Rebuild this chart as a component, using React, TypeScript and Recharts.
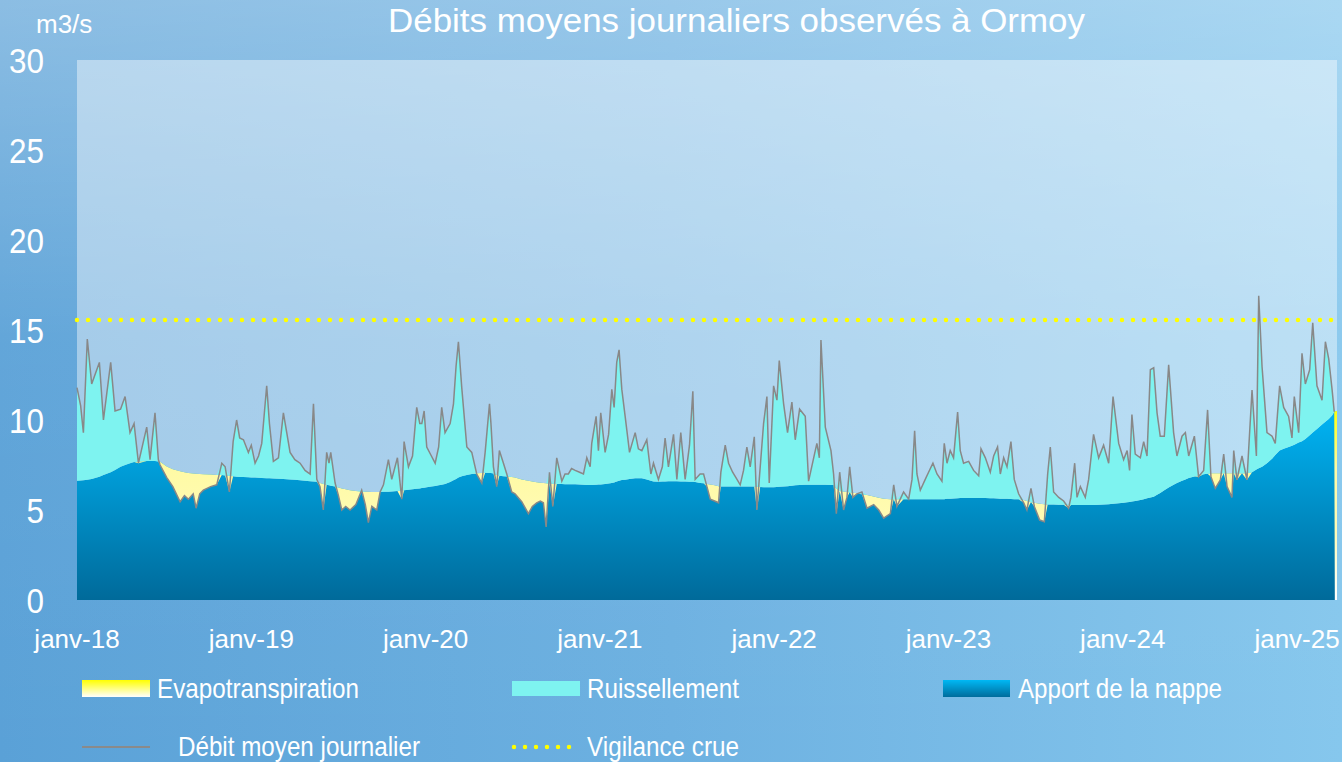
import React from "react";
import {
  ComposedChart,
  Area,
  Line,
  XAxis,
  YAxis,
  CartesianGrid,
  ReferenceLine,
} from "recharts";

// Month index since janv-2018 (0 = 1 Jan 2018)
const MONTHS: number[] = [
  0.0, 0.25, 0.44, 0.71, 1.01, 1.54, 1.82, 2.32, 2.62, 3.0, 3.31, 3.65, 3.93, 4.23, 4.8, 5.03, 5.37, 5.6, 5.72, 6.18,
  6.6, 7.1, 7.4, 7.67, 8.0, 8.2, 8.45, 8.7, 9.2, 9.62, 9.97, 10.2, 10.49, 10.75, 10.99, 11.2, 11.46, 11.8, 12.0, 12.26,
  12.5, 12.72, 13.06, 13.25, 13.52, 13.87, 14.21, 14.44, 14.67, 15.0, 15.36, 15.7, 16.05, 16.28, 16.51, 16.73, 16.96, 17.19, 17.35, 17.47,
  17.77, 18.0, 18.23, 18.5, 18.8, 19.2, 19.6, 19.85, 20.06, 20.3, 20.64, 20.87, 21.1, 21.44, 21.67, 22.06, 22.36, 22.52, 22.82, 23.1,
  23.39, 23.6, 23.74, 23.9, 24.08, 24.4, 24.66, 24.9, 25.11, 25.34, 25.69, 25.92, 26.1, 26.26, 26.49, 26.84, 27.18, 27.52, 27.87, 28.1,
  28.4, 28.5, 28.67, 28.9, 29.08, 29.36, 29.59, 29.93, 30.16, 30.62, 31.08, 31.35, 31.65, 31.9, 32.11, 32.3, 32.53, 32.76, 33.03, 33.38,
  33.6, 33.83, 34.05, 34.3, 34.6, 34.87, 35.1, 35.33, 35.44, 35.74, 35.9, 36.06, 36.36, 36.6, 36.82, 36.98, 37.16, 37.32, 37.51, 37.74,
  38.04, 38.43, 38.65, 38.89, 39.23, 39.51, 39.69, 40.03, 40.3, 40.49, 40.72, 41.07, 41.3, 41.57, 41.87, 42.17, 42.4, 42.56, 42.9, 43.14,
  43.37, 43.6, 43.9, 44.17, 44.33, 44.63, 44.86, 45.14, 45.44, 45.66, 45.89, 46.12, 46.35, 46.63, 46.81, 47.04, 47.27, 47.5, 47.66, 47.96,
  48.19, 48.35, 48.65, 48.92, 49.22, 49.45, 49.75, 50.14, 50.37, 50.72, 50.94, 51.11, 51.22, 51.52, 51.91, 52.09, 52.28, 52.51, 52.78, 53.01,
  53.2, 53.42, 53.7, 54.04, 54.39, 54.85, 55.2, 55.54, 56.0, 56.23, 56.45, 56.91, 57.26, 57.49, 57.67, 57.83, 58.06, 58.4, 58.63, 58.93,
  59.21, 59.55, 59.71, 59.9, 60.12, 60.35, 60.63, 60.81, 61.04, 61.39, 61.73, 62.08, 62.24, 62.54, 62.88, 63.11, 63.38, 63.57, 63.8, 64.03,
  64.3, 64.53, 64.83, 65.18, 65.4, 65.68, 65.91, 66.28, 66.6, 66.83, 67.01, 67.24, 67.59, 67.93, 68.27, 68.43, 68.69, 68.85, 69.08, 69.42,
  69.65, 69.99, 70.34, 70.68, 71.03, 71.33, 71.72, 72.06, 72.3, 72.47, 72.63, 72.86, 73.21, 73.44, 73.67, 73.9, 74.13, 74.36, 74.58, 74.86,
  75.16, 75.5, 75.73, 76.08, 76.31, 76.54, 76.93, 77.22, 77.57, 77.84, 78.07, 78.37, 78.72, 78.95, 79.18, 79.52, 79.64, 79.86, 80.21, 80.55,
  80.9, 81.2, 81.36, 81.59, 81.93, 82.28, 82.5, 82.8, 83.08, 83.42, 83.65, 83.81, 84.11, 84.34, 84.57, 84.87, 85.08, 85.37, 85.72, 85.95,
  86.18, 86.41, 86.56, 86.6, 86.75,
];

// Débit moyen journalier (m3/s)
const DEBIT: (number | null)[] = [
  11.8, 10.8, 9.3, 14.5, 12.0, 13.2, 10.0, 13.2, 10.5, 10.6, 11.3, 9.3, 9.8, 7.6, 9.6, 7.8, 10.4, 7.8, 7.5, 6.8,
  6.3, 5.46, 5.8, 5.6, 5.9, 5.1, 5.9, 6.1, 6.3, 6.4, 7.6, 7.4, 6.0, 8.8, 10.0, 9.0, 8.9, 8.2, 8.6, 7.6,
  8.0, 8.7, 11.9, 9.8, 7.7, 7.9, 10.4, 9.3, 8.2, 7.8, 7.6, 7.2, 7.0, 10.9, 6.7, 6.3, 5.0, 8.2, 7.6, 8.2,
  6.5, 5.8, 5.0, 5.2, 5.0, 5.3, 6.1, 5.3, 4.3, 5.2, 5.0, 6.0, 6.4, 7.8, 6.7, 7.9, 5.6, 8.8, 7.4, 8.0,
  10.7, 9.8, 9.8, 10.5, 8.5, 8.0, 7.6, 8.5, 10.7, 9.3, 9.8, 10.9, 13.0, 14.35, 11.8, 8.5, 8.2, 7.0, 6.5, 8.2,
  10.9, 9.8, 7.4, 6.3, 8.3, 7.6, 7.0, 6.0, 5.9, 5.46, 4.8, 5.2, 5.4, 5.5, 5.4, 4.06, 7.1, 5.2, 7.9, 6.6,
  7.0, 7.0, 7.3, 7.2, 7.1, 7.0, 7.9, 7.4, 8.7, 10.2, 8.3, 10.4, 8.2, 9.2, 11.7, 10.7, 13.2, 13.9, 11.7, 10.2,
  8.2, 9.3, 8.4, 8.3, 8.9, 7.0, 7.6, 6.7, 7.4, 9.0, 7.4, 9.2, 6.7, 9.3, 6.7, 8.6, 11.6, 6.7, 7.0, 7.0,
  6.3, 5.6, 5.5, 5.4, 7.1, 8.6, 7.6, 7.1, 6.7, 6.4, 7.2, 8.5, 7.4, 9.07, 5.0, 7.4, 9.8, 11.3, 6.5, 11.9,
  11.1, 13.3, 10.9, 9.3, 11.0, 8.9, 10.6, 10.2, 6.6, 7.9, 8.7, 7.9, 14.44, 9.6, 8.3, 7.0, 4.8, 7.1, 5.0, 5.7,
  7.4, 5.7, 5.9, 6.0, 5.1, 5.3, 5.0, 4.55, 4.8, 6.4, 5.2, 6.0, 5.6, 6.7, 9.4, 7.0, 6.1, 6.7, 7.1, 7.6,
  7.0, 6.6, 8.7, 7.6, 8.3, 7.9, 10.44, 8.3, 7.6, 7.7, 7.2, 6.9, 8.4, 7.9, 7.1, 8.0, 8.5, 7.0, 7.9, 7.4,
  8.8, 6.7, 5.9, 5.4, 5.0, 6.2, 5.2, 4.44, 4.35, 7.0, 8.5, 6.0, 5.7, 5.5, 5.1, 5.7, 7.6, 5.7, 6.3, 5.7,
  6.7, 9.2, 7.9, 8.6, 7.6, 11.3, 8.7, 7.8, 8.3, 7.2, 10.3, 8.1, 7.9, 8.8, 8.0, 12.8, 12.9, 10.4, 9.1, 9.1,
  13.06, 9.3, 8.0, 9.1, 9.3, 8.0, 9.1, 6.85, 7.2, 10.56, 6.85, 6.2, 6.67, 8.1, 6.3, 5.7, 8.3, 6.67, 8.0, 6.67,
  11.67, 8.0, 16.9, 12.96, 9.3, 9.1, 8.7, 11.9, 10.7, 10.2, 9.0, 11.3, 9.3, 13.7, 12.0, 12.8, 15.4, 11.9, 11.1, 14.35,
  13.4, 11.7, 10.46, null, null,
];

// Apport de la nappe (m3/s)
const BASE: number[] = [
  6.63, 6.64, 6.65, 6.68, 6.72, 6.85, 6.94, 7.1, 7.22, 7.4, 7.5, 7.6, 7.67, 7.7, 7.72, 7.72, 7.72, 7.7, 7.68, 7.42,
  7.26, 7.15, 7.1, 7.06, 7.03, 7.02, 7.0, 6.99, 6.97, 6.95, 6.94, 6.92, 6.9, 6.88, 6.85, 6.84, 6.83, 6.82, 6.81, 6.8,
  6.79, 6.78, 6.77, 6.76, 6.75, 6.74, 6.72, 6.71, 6.7, 6.68, 6.65, 6.62, 6.6, 6.58, 6.57, 6.5, 6.45, 6.4, 6.37, 6.35,
  6.3, 6.25, 6.2, 6.15, 6.1, 6.06, 6.03, 6.02, 6.01, 6.0, 6.0, 6.0, 6.01, 6.02, 6.03, 6.06, 6.08, 6.1, 6.13, 6.15,
  6.18, 6.2, 6.22, 6.24, 6.26, 6.3, 6.33, 6.37, 6.4, 6.45, 6.55, 6.65, 6.72, 6.8, 6.88, 6.94, 7.0, 7.04, 7.06, 7.07,
  7.06, 7.05, 7.03, 6.95, 6.9, 6.87, 6.86, 6.84, 6.8, 6.7, 6.62, 6.58, 6.54, 6.52, 6.5, 6.48, 6.47, 6.46, 6.44, 6.44,
  6.43, 6.43, 6.43, 6.43, 6.42, 6.4, 6.39, 6.39, 6.39, 6.4, 6.41, 6.42, 6.44, 6.47, 6.5, 6.53, 6.58, 6.62, 6.66, 6.68,
  6.72, 6.76, 6.77, 6.76, 6.7, 6.62, 6.58, 6.57, 6.58, 6.59, 6.6, 6.6, 6.6, 6.59, 6.58, 6.57, 6.57, 6.56, 6.5, 6.48,
  6.45, 6.42, 6.38, 6.32, 6.3, 6.3, 6.3, 6.3, 6.3, 6.3, 6.3, 6.3, 6.3, 6.3, 6.29, 6.28, 6.27, 6.26, 6.26, 6.27,
  6.28, 6.29, 6.3, 6.32, 6.35, 6.37, 6.39, 6.4, 6.4, 6.4, 6.4, 6.4, 6.4, 6.4, 6.39, 6.39, 6.2, 6.06, 6.03, 6.0,
  5.98, 5.96, 5.93, 5.88, 5.83, 5.75, 5.68, 5.63, 5.6, 5.6, 5.6, 5.6, 5.6, 5.6, 5.6, 5.6, 5.6, 5.6, 5.6, 5.6,
  5.6, 5.6, 5.6, 5.62, 5.63, 5.64, 5.65, 5.66, 5.66, 5.67, 5.67, 5.67, 5.67, 5.66, 5.65, 5.65, 5.64, 5.63, 5.62, 5.62,
  5.61, 5.6, 5.6, 5.55, 5.5, 5.45, 5.4, 5.35, 5.32, 5.3, 5.3, 5.3, 5.29, 5.29, 5.28, 5.28, 5.28, 5.28, 5.28, 5.28,
  5.28, 5.28, 5.29, 5.3, 5.32, 5.35, 5.37, 5.4, 5.43, 5.45, 5.47, 5.5, 5.55, 5.6, 5.65, 5.7, 5.74, 5.85, 5.95, 6.1,
  6.25, 6.4, 6.5, 6.62, 6.7, 6.78, 6.86, 6.92, 6.98, 7.02, 7.04, 7.04, 7.04, 7.04, 7.04, 7.04, 7.04, 7.04, 7.04, 7.04,
  7.1, 7.25, 7.32, 7.4, 7.6, 7.85, 8.05, 8.3, 8.4, 8.5, 8.57, 8.62, 8.75, 8.82, 8.95, 9.15, 9.3, 9.5, 9.75, 9.9,
  10.05, 10.25, 10.46, 10.48, 10.5,
];

const X_TICKS: number[] = [0, 12, 24, 36, 48, 60, 72, 84];
const X_LABELS: string[] = ["janv-18", "janv-19", "janv-20", "janv-21", "janv-22", "janv-23", "janv-24", "janv-25"];
const Y_TICKS: number[] = [0, 5, 10, 15, 20, 25, 30];
const VIGILANCE = 15.56;

const TITLE = "Débits moyens journaliers observés à Ormoy";
const UNIT = "m3/s";

const FONT = "'Liberation Sans', Arial, sans-serif";

type Row = { m: number; debit: number | null; base: number };

const data: Row[] = MONTHS.map((m, i) => ({ m, debit: DEBIT[i], base: BASE[i] }));

const evapRange = (d: Row): [number, number] =>
  d.debit == null ? [0, d.base] : d.debit < d.base ? [d.debit, d.base] : [d.base, d.base];
const ruisRange = (d: Row): [number, number] =>
  d.debit == null ? [d.base, d.base] : [d.base, Math.max(d.debit, d.base)];

const YTick = (props: any) => {
  const { x, y, payload } = props;
  const s = String(payload.value);
  return (
    <text
      x={x - 33}
      y={y + 12.5}
      textAnchor="end"
      fontSize={35}
      fontFamily={FONT}
      fill="#ffffff"
      textLength={s.length * 17.5}
      lengthAdjust="spacingAndGlyphs"
    >
      {s}
    </text>
  );
};

const XTick = (props: any) => {
  const { x, y, payload } = props;
  const idx = X_TICKS.indexOf(payload.value);
  return (
    <text x={x} y={y + 48} textAnchor="middle" fontSize={26} fontFamily={FONT} fill="#ffffff">
      {idx >= 0 ? X_LABELS[idx] : ""}
    </text>
  );
};

const LegendText = ({ x, y, w, children }: { x: number; y: number; w: number; children: string }) => (
  <text x={x} y={y} fontSize={28} fontFamily={FONT} fill="#ffffff" textLength={w} lengthAdjust="spacingAndGlyphs">
    {children}
  </text>
);

export default function App() {
  return (
    <div
      style={{
        position: "absolute",
        left: 0,
        top: 0,
        width: 1342,
        height: 762,
        overflow: "hidden",
        background:
          "linear-gradient(180deg, rgba(255,255,255,0.3) 0%, rgba(255,255,255,0.05) 45%, rgba(255,255,255,0) 100%), linear-gradient(90deg, #5aa1d7 0%, #6db1e1 50%, #86c7ed 100%)",
      }}
    >
      <ComposedChart
        width={1342}
        height={762}
        data={data}
        margin={{ top: 60, right: 5, left: 0, bottom: 122 }}
      >
        <defs>
          <linearGradient id="gBase" x1="0" y1="0" x2="0" y2="1">
            <stop offset="0%" stopColor="#00b4f4" />
            <stop offset="100%" stopColor="#006a9a" />
          </linearGradient>
          <linearGradient id="gEvap" x1="0" y1="0" x2="0" y2="1">
            <stop offset="0%" stopColor="#ffff10" />
            <stop offset="30%" stopColor="#fffaa4" />
            <stop offset="65%" stopColor="#fffbb8" />
            <stop offset="100%" stopColor="#ffffff" />
          </linearGradient>
        </defs>
        <CartesianGrid horizontal={false} vertical={false} fill="#ffffff" fillOpacity={0.42} stroke="none" />
        <XAxis
          type="number"
          dataKey="m"
          domain={[0, 86.75]}
          ticks={X_TICKS}
          axisLine={false}
          tickLine={false}
          tickSize={0}
          tickMargin={0}
          height={40}
          tick={<XTick />}
          interval={0}
        />
        <YAxis
          type="number"
          domain={[0, 30]}
          ticks={Y_TICKS}
          axisLine={false}
          tickLine={false}
          tickSize={0}
          tickMargin={0}
          width={77}
          tick={<YTick />}
          interval={0}
        />
        <Area
          type="linear"
          dataKey="base"
          fill="url(#gBase)"
          fillOpacity={1}
          stroke="none"
          isAnimationActive={false}
          dot={false}
          activeDot={false}
        />
        <Area
          type="linear"
          dataKey={evapRange}
          fill="url(#gEvap)"
          fillOpacity={1}
          stroke="none"
          isAnimationActive={false}
          dot={false}
          activeDot={false}
        />
        <Area
          type="linear"
          dataKey={ruisRange}
          fill="#7ef3f0"
          fillOpacity={1}
          stroke="none"
          isAnimationActive={false}
          dot={false}
          activeDot={false}
        />
        <ReferenceLine
          y={VIGILANCE}
          stroke="#ffff00"
          strokeWidth={4.5}
          strokeDasharray="0 11"
          strokeLinecap="round"
        />
        <Line
          type="linear"
          dataKey="debit"
          stroke="#888888"
          strokeWidth={1.5}
          dot={false}
          activeDot={false}
          connectNulls={false}
          isAnimationActive={false}
        />
      </ComposedChart>

      <svg
        width={1342}
        height={762}
        style={{ position: "absolute", left: 0, top: 0, pointerEvents: "none" }}
      >
        <defs>
          <linearGradient id="lgEvap" x1="0" y1="0" x2="0" y2="1">
            <stop offset="0%" stopColor="#ffff00" />
            <stop offset="100%" stopColor="#ffffff" />
          </linearGradient>
          <linearGradient id="lgBase" x1="0" y1="0" x2="0" y2="1">
            <stop offset="0%" stopColor="#00b8f4" />
            <stop offset="100%" stopColor="#006c9c" />
          </linearGradient>
        </defs>
        <text x={388} y={32} fontSize={34} fontFamily={FONT} fill="#ffffff" textLength={697} lengthAdjust="spacingAndGlyphs">
          {TITLE}
        </text>
        <text x={36} y={33} fontSize={26} fontFamily={FONT} fill="#ffffff">
          {UNIT}
        </text>

        <rect x={82} y={680} width={68} height={17} fill="url(#lgEvap)" />
        <LegendText x={157} y={698} w={202}>Evapotranspiration</LegendText>
        <rect x={512} y={681} width={68} height={15} fill="#7ef3f0" />
        <LegendText x={587} y={698} w={152}>Ruissellement</LegendText>
        <rect x={943} y={680} width={67} height={17} fill="url(#lgBase)" />
        <LegendText x={1018} y={698} w={204}>Apport de la nappe</LegendText>

        <line x1={82} y1={747} x2={150} y2={747} stroke="#8a8a8a" strokeWidth={2} />
        <LegendText x={178} y={756} w={242}>Débit moyen journalier</LegendText>
        <line x1={514} y1={747} x2={580} y2={747} stroke="#ffff00" strokeWidth={4.5} strokeDasharray="0 11" strokeLinecap="round" />
        <LegendText x={587} y={756} w={152}>Vigilance crue</LegendText>
      </svg>
    </div>
  );
}
